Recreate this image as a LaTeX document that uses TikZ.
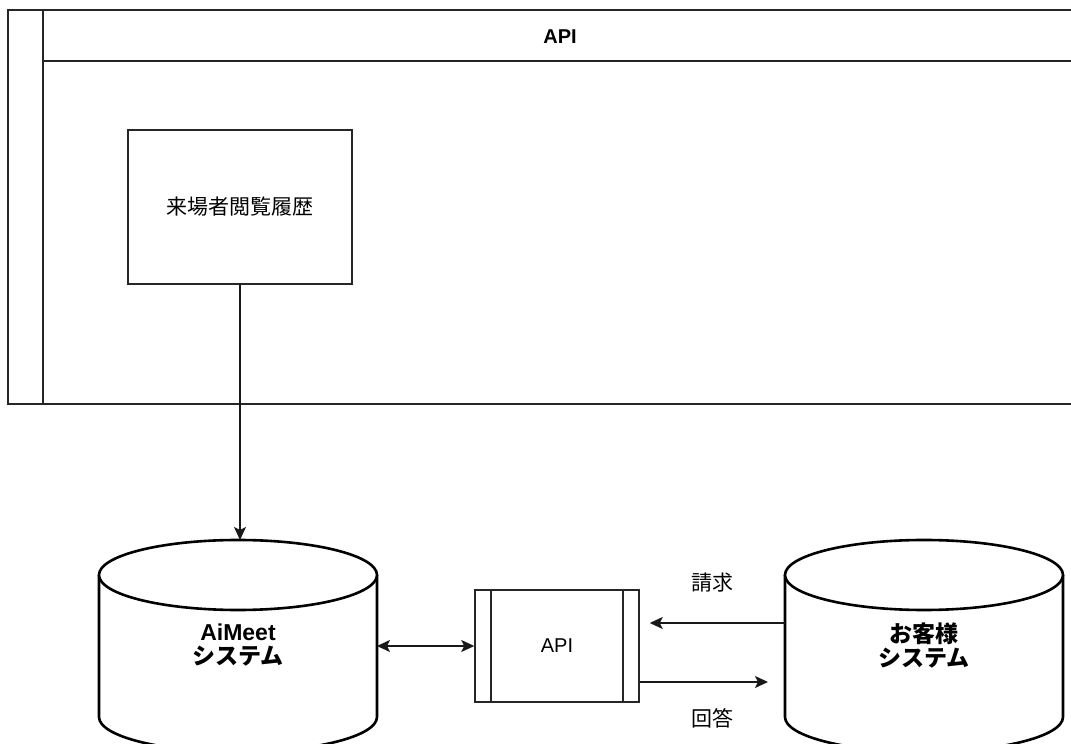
\documentclass[tikz,border=0pt]{standalone}
\usepackage{fontspec}
\setmainfont{Liberation Sans}
\newfontfamily\jp{Noto Sans CJK JP}
\usetikzlibrary{arrows.meta}
\begin{document}
\begin{tikzpicture}[x=1pt,y=1pt,
  frame/.style={draw=black!85,line width=1.5pt},
  cyl/.style={draw=black,line width=2.6pt},
  conn/.style={draw=black!90,line width=1.5pt},
  tip/.style={-{Stealth[length=13pt,width=12pt,inset=3pt]}},
  lbl/.style={font=\fontsize{20}{24}\selectfont},
  jlbl/.style={font=\fontsize{21}{25}\selectfont},
  blbl/.style={font=\fontsize{23}{27}\selectfont\bfseries,align=center},
  holder/.style={inner sep=0pt,outer sep=0pt}]
\clip (0,0) rectangle (1071,744);
\fill[white] (0,0) rectangle (1071,744);
% outer pool
\draw[frame] (8,734) rectangle (1080,340);
\draw[frame] (43,734) -- (43,340);
\draw[frame] (43,683) -- (1080,683);
\node[lbl,font=\fontsize{20}{24}\selectfont\bfseries] (pool) at (560,707) {API};
% history box
\node[frame,jlbl,minimum width=224pt,minimum height=154pt,inner sep=0pt] (hist) at (240,537) {\jp 来場者閲覧履歴};
% AiMeet cylinder
\node[holder,minimum width=278pt,minimum height=212pt] (aimeetbox) at (238,98) {};
\draw[cyl] (99,169) -- (99,27) arc (180:360:139 and 35) -- (377,169);
\draw[cyl,fill=white] (238,169) ellipse (139 and 35);
\node[blbl] (aimeet) at (238,99) {AiMeet\\[-3pt]{\jp\bfseries システム}};
% customer cylinder
\node[holder,minimum width=278pt,minimum height=212pt] (custbox) at (924,98) {};
\draw[cyl] (785,169) -- (785,27) arc (180:360:139 and 35) -- (1063,169);
\draw[cyl,fill=white] (924,169) ellipse (139 and 35);
\node[blbl] (cust) at (924,98) {\jp\bfseries お客様\\[-3pt]\jp\bfseries システム};
% API process box
\node[frame,lbl,minimum width=164pt,minimum height=112pt,inner sep=0pt] (api) at (557,98) {API};
\draw[frame] (491,154) -- (491,42);
\draw[frame] (623,154) -- (623,42);
% connectors
\draw[conn,tip] (hist.south) -- (hist.south |- aimeetbox.north);
\draw[conn,{Stealth[length=13pt,width=12pt,inset=3pt]}-{Stealth[length=13pt,width=12pt,inset=3pt]}] (aimeetbox.east) -- (api.west);
\coordinate (reqend) at ([xshift=10pt,yshift=23pt]api.east);
\draw[conn,tip] ([yshift=23pt]custbox.west) -- (reqend);
\coordinate (ansend) at (768,62);
\draw[conn,tip] ([yshift=-36pt]api.east) -- (ansend);
\node[jlbl] (req) at (712,161) {\jp 請求};
\node[jlbl] (ans) at (712,26) {\jp 回答};
\end{tikzpicture}
\end{document}
